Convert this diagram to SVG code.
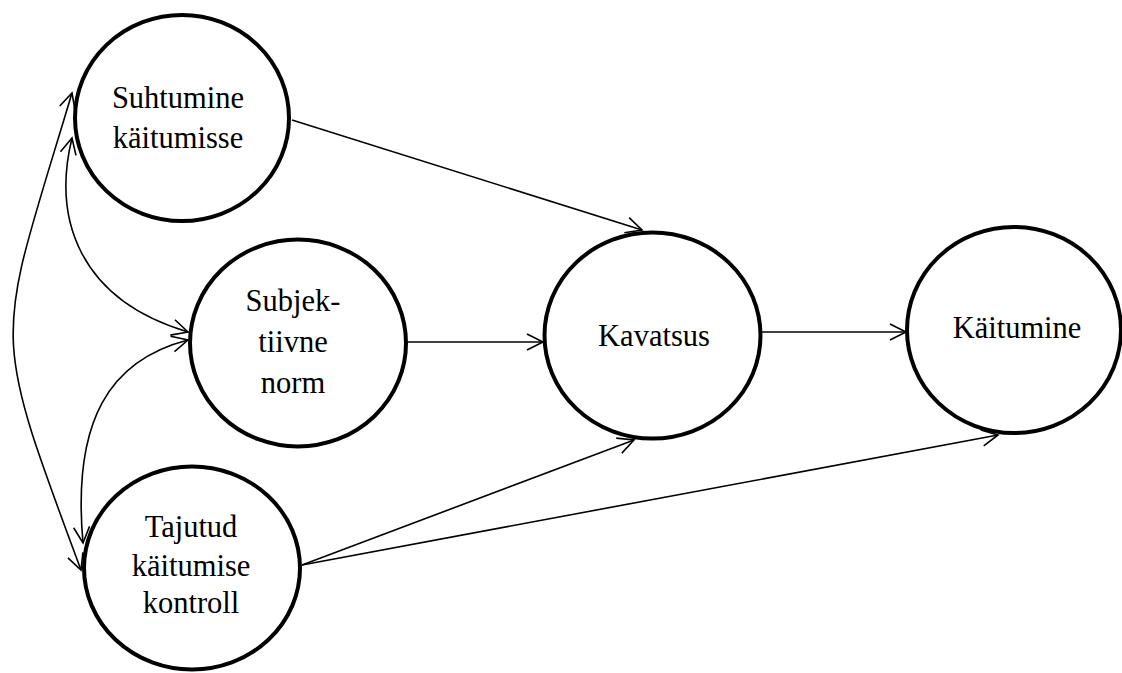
<svg xmlns="http://www.w3.org/2000/svg" width="1122" height="673" viewBox="0 0 1122 673">
<style>
.node{fill:#fff;stroke:#000;stroke-width:4}
.lbl{font-family:'Liberation Serif','Times New Roman','DejaVu Serif',serif;font-size:30.5px;fill:#000;text-anchor:middle}
.edge{fill:none;stroke:#000;stroke-width:1.6}
</style>
<defs>
<marker id="arr" markerUnits="userSpaceOnUse" markerWidth="20" markerHeight="20" viewBox="-18 -10 20 20" refX="0" refY="0" orient="auto-start-reverse">
<path d="M-16,-8 L0,0 L-16,8" fill="none" stroke="#000" stroke-width="1.6"/>
</marker>
</defs>
<rect width="1122" height="673" fill="#fff"/>
<g id="connectors">
<path class="edge" d="M292,120 L642,230" marker-end="url(#arr)"/>
<path class="edge" d="M408,342 L543,342" marker-end="url(#arr)"/>
<path class="edge" d="M762,332 L906,332" marker-end="url(#arr)"/>
<path class="edge" d="M302,565 L634,440" marker-end="url(#arr)"/>
<path class="edge" d="M302,565 L998,435" marker-end="url(#arr)"/>
<path class="edge" d="M72,93 C-4,347 -12,320 81,570" marker-start="url(#arr)" marker-end="url(#arr)"/>
<path class="edge" d="M72,138 C52,220 80,300 188,332" marker-start="url(#arr)" marker-end="url(#arr)"/>
<path class="edge" d="M188,340 C110,360 72,420 83,543" marker-start="url(#arr)" marker-end="url(#arr)"/>
</g>
<g id="n-suhtumine">
<ellipse class="node" cx="182" cy="118" rx="107" ry="103"/>
<text class="lbl" font-family="Liberation Serif, serif" x="178" y="108">Suhtumine</text>
<text class="lbl" font-family="Liberation Serif, serif" x="178" y="148">käitumisse</text>
</g>
<g id="n-subjektiivne">
<ellipse class="node" cx="298" cy="343" rx="108" ry="103.5"/>
<text class="lbl" x="293" y="311">Subjek-</text>
<text class="lbl" x="293" y="352">tiivne</text>
<text class="lbl" x="293" y="393">norm</text>
</g>
<g id="n-tajutud">
<ellipse class="node" cx="192" cy="568" rx="108" ry="101.5"/>
<text class="lbl" x="191" y="537">Tajutud</text>
<text class="lbl" x="191" y="576">käitumise</text>
<text class="lbl" x="191" y="613">kontroll</text>
</g>
<g id="n-kavatsus">
<ellipse class="node" cx="652.5" cy="335.5" rx="108" ry="103"/>
<text class="lbl" x="654" y="346">Kavatsus</text>
</g>
<g id="n-kaitumine">
<ellipse class="node" cx="1014" cy="330" rx="107" ry="103"/>
<text class="lbl" x="1017" y="338">Käitumine</text>
</g>
</svg>
